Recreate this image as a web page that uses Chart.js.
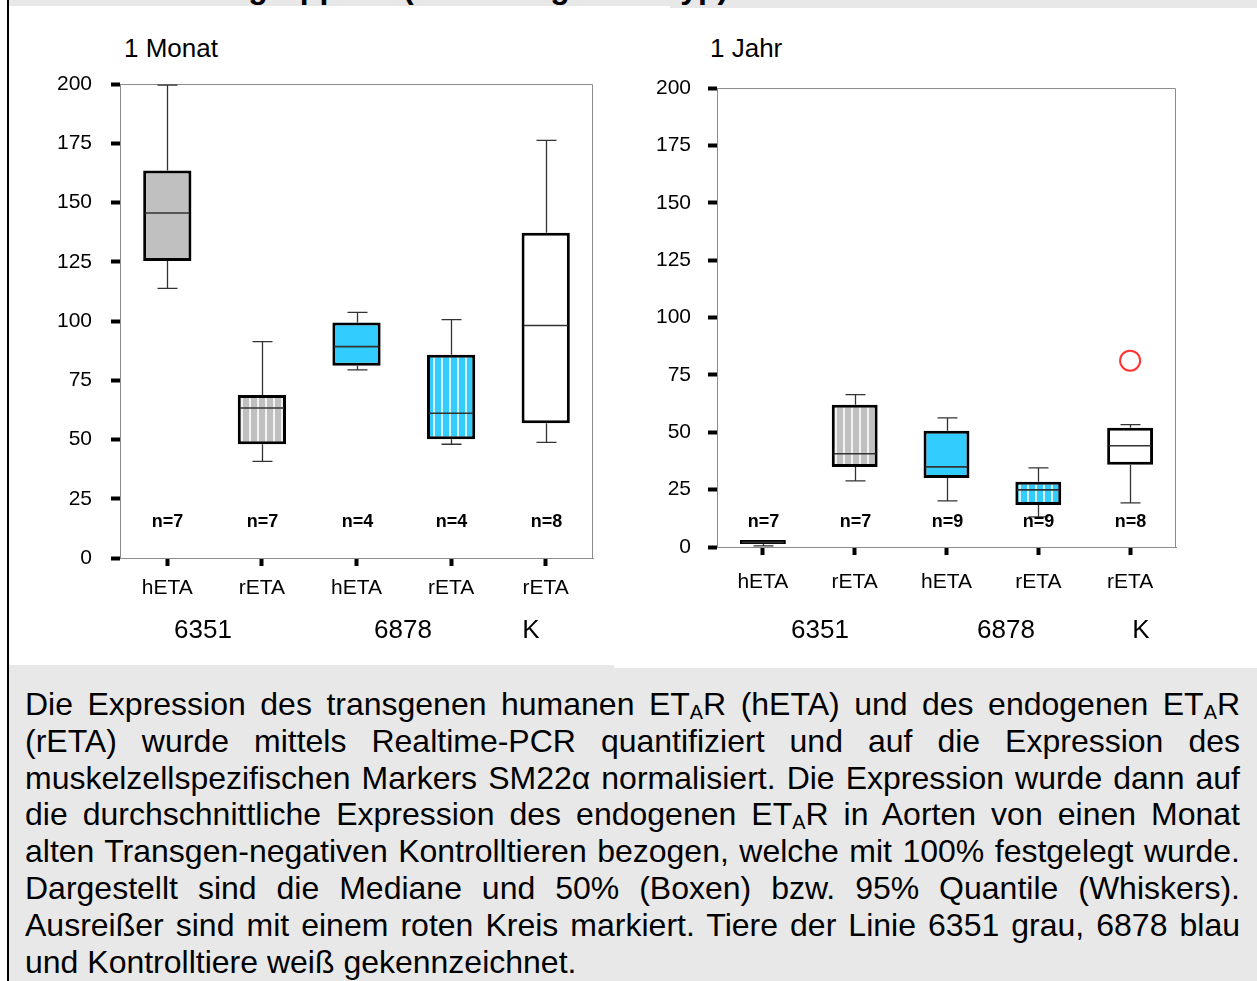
<!DOCTYPE html>
<html>
<head>
<meta charset="utf-8">
<script src="https://cdn.jsdelivr.net/npm/chart.js@4.4.1/dist/chart.umd.min.js"></script>
<style>
  html,body{margin:0;padding:0;background:#fff;}
  body{width:1257px;height:981px;position:relative;overflow:hidden;font-family:Arial,"Liberation Sans",sans-serif;color:#000;}
  .tt{position:absolute;top:-28.6px;font:bold 32px/32px Arial,"Liberation Sans",sans-serif;white-space:nowrap;}
  .lbl{position:absolute;font-size:26px;line-height:26px;white-space:nowrap;}
  .grp{position:absolute;font-size:26px;line-height:26px;white-space:nowrap;transform:translateX(-50%);}
  #cap{position:absolute;left:25px;top:686px;width:1215px;font-size:32px;line-height:36.8px;}
  #cap div{height:36.8px;}
  #cap .j{text-align:justify;text-align-last:justify;}
  .sb{font-size:0.62em;vertical-align:-0.22em;line-height:0;}
  canvas{position:absolute;}
</style>
</head>
<body>
<div style="position:absolute;left:9px;top:0;width:1248px;height:8px;background:#e8e8e8;overflow:hidden">
  <div style="position:absolute;left:0;top:6px;width:661px;height:2px;background:#fff"></div>
  <span class="tt" style="left:97px">Versuchsgruppen</span>
  <span class="tt" style="left:394px;letter-spacing:2.5px">(Messung</span>
  <span class="tt" style="left:654px">Typ)</span>
</div>
<div style="position:absolute;left:7px;top:0;width:2px;height:981px;background:#000"></div>

<div class="lbl" style="left:124px;top:35px">1 Monat</div>
<div class="lbl" style="left:710px;top:35px">1 Jahr</div>

<canvas id="c1" width="590" height="560" style="left:30px;top:70px;width:590px;height:560px"></canvas>
<canvas id="c2" width="570" height="560" style="left:640px;top:70px;width:570px;height:560px"></canvas>

<div class="grp" style="left:203px;top:616px">6351</div>
<div class="grp" style="left:403px;top:616px">6878</div>
<div class="grp" style="left:531px;top:616px">K</div>
<div class="grp" style="left:820px;top:616px">6351</div>
<div class="grp" style="left:1006px;top:616px">6878</div>
<div class="grp" style="left:1141px;top:616px">K</div>

<div style="position:absolute;left:9px;top:665px;width:605px;height:316px;background:#e8e8e8"></div>
<div style="position:absolute;left:614px;top:668px;width:643px;height:313px;background:#e8e8e8"></div>

<div id="cap">
  <div class="j">Die Expression des transgenen humanen ET<span class="sb">A</span>R (hETA) und des endogenen ET<span class="sb">A</span>R</div>
  <div class="j">(rETA) wurde mittels Realtime-PCR quantifiziert und auf die Expression des</div>
  <div class="j">muskelzellspezifischen Markers SM22α normalisiert. Die Expression wurde dann auf</div>
  <div class="j">die durchschnittliche Expression des endogenen ET<span class="sb">A</span>R in Aorten von einen Monat</div>
  <div class="j">alten Transgen-negativen Kontrolltieren bezogen, welche mit 100% festgelegt wurde.</div>
  <div class="j">Dargestellt sind die Mediane und 50% (Boxen) bzw. 95% Quantile (Whiskers).</div>
  <div class="j">Ausreißer sind mit einem roten Kreis markiert. Tiere der Linie 6351 grau, 6878 blau</div>
  <div>und Kontrolltiere weiß gekennzeichnet.</div>
</div>

<script>
// ---- data ----
const categories = ['hETA', 'rETA', 'hETA', 'rETA', 'rETA'];
const yTickValues = [0, 25, 50, 75, 100, 125, 150, 175, 200];

// 1 Monat
const monatMin = [113.8, 40.8, 79.4, 48.0, 48.8];
const monatQ1  = [125.3, 48.0, 81.1, 50.1, 56.9];
const monatMed = [145.6, 63.3, 89.2, 61.1, 98.1];
const monatQ3  = [163.5, 68.8, 99.4, 85.8, 137.2];
const monatMax = [199.5, 91.3, 103.6, 100.6, 176.2];
const monatN   = ['n=7', 'n=7', 'n=4', 'n=4', 'n=8'];

// 1 Jahr
const jahrMin = [0.5, 28.8, 20.1, 13.1, 19.2];
const jahrQ1  = [1.3, 34.9, 30.1, 18.3, 35.8];
const jahrMed = [2.0, 40.6, 34.9, 24.9, 44.1];
const jahrQ3  = [3.0, 62.0, 50.7, 28.4, 52.0];
const jahrMax = [3.0, 66.4, 56.3, 34.5, 53.3];
const jahrOutlier = [null, null, null, null, 81.2];
const jahrN   = ['n=7', 'n=7', 'n=9', 'n=9', 'n=8'];

// ---- styles ----
Chart.defaults.font.family = 'Arial, "Liberation Sans", sans-serif';
Chart.defaults.color = '#000';

function stripes(base, line) {
  const c = document.createElement('canvas');
  c.width = 8; c.height = 8;
  const g = c.getContext('2d');
  g.fillStyle = base; g.fillRect(0, 0, 8, 8);
  g.fillStyle = line; g.fillRect(3, 0, 2, 8);
  return g.createPattern(c, 'repeat');
}
const GRAY = '#c0c0c0', BLUE = '#33ccff';
const fills = [GRAY, stripes(GRAY, '#f2f2f2'), BLUE, stripes(BLUE, '#d6f3ff'), '#ffffff'];

function makeBoxPlugin(st) {
  return {
    id: 'boxExtras',
    afterDatasetsDraw(chart) {
      const { ctx, chartArea: a, scales: { x, y } } = chart;
      const bars = chart.getDatasetMeta(0).data;
      ctx.save();
      ctx.strokeStyle = '#8c8c8c'; ctx.lineWidth = 1;
      ctx.beginPath();
      ctx.moveTo(a.left, a.top + 0.5);
      ctx.lineTo(a.right - 0.5, a.top + 0.5);
      ctx.lineTo(a.right - 0.5, a.bottom);
      ctx.stroke();
      st.min.forEach((mn, i) => {
        const cx = Math.round(x.getPixelForValue(i)) + 0.5;
        ctx.strokeStyle = '#333'; ctx.lineWidth = 1.3;
        const capW = st.capW;
        if (st.max[i] > st.q3[i]) {
          const yt = y.getPixelForValue(st.max[i]), yb = y.getPixelForValue(st.q3[i]);
          ctx.beginPath(); ctx.moveTo(cx, yb); ctx.lineTo(cx, yt);
          ctx.moveTo(cx - capW / 2, yt); ctx.lineTo(cx + capW / 2, yt); ctx.stroke();
        }
        if (mn < st.q1[i]) {
          const yt = y.getPixelForValue(st.q1[i]), yb = y.getPixelForValue(mn);
          ctx.beginPath(); ctx.moveTo(cx, yt); ctx.lineTo(cx, yb);
          ctx.moveTo(cx - capW / 2, yb); ctx.lineTo(cx + capW / 2, yb); ctx.stroke();
        }
        const b = bars[i];
        const ym = y.getPixelForValue(st.med[i]);
        ctx.strokeStyle = '#333'; ctx.lineWidth = 1.6;
        ctx.beginPath(); ctx.moveTo(b.x - b.width / 2 + 2, ym); ctx.lineTo(b.x + b.width / 2 - 2, ym); ctx.stroke();
        ctx.fillStyle = '#000';
        ctx.font = 'bold 18px Arial, "Liberation Sans", sans-serif';
        ctx.textAlign = 'center'; ctx.textBaseline = 'middle';
        ctx.fillText(st.n[i], cx, a.bottom - st.nOff);
      });
      ctx.restore();
    }
  };
}

function makeChart(id, st, pad, yW, xH, labelPad, barPct, outlier) {
  const datasets = [{
    type: 'bar',
    data: st.q1.map((v, i) => [v, st.q3[i]]),
    backgroundColor: fills,
    borderColor: '#000',
    borderWidth: 3,
    borderSkipped: false,
    barPercentage: barPct,
    categoryPercentage: 1.0,
    order: 2
  }];
  if (outlier) {
    datasets.push({
      type: 'line',
      data: outlier,
      showLine: false,
      pointStyle: 'circle',
      pointRadius: 10,
      pointBorderWidth: 2,
      pointBorderColor: '#ff3333',
      pointBackgroundColor: 'rgba(0,0,0,0)',
      order: 1
    });
  }
  return new Chart(document.getElementById(id), {
    type: 'bar',
    data: { labels: categories, datasets },
    options: {
      responsive: false,
      animation: false,
      devicePixelRatio: 1,
      layout: { padding: pad },
      plugins: { legend: { display: false }, tooltip: { enabled: false } },
      scales: {
        x: {
          type: 'category',
          offset: true,
          grid: { offset: false, drawOnChartArea: false, drawTicks: true, tickLength: 8, tickWidth: 4, tickColor: '#000' },
          border: { display: true, color: '#8c8c8c', width: 1 },
          ticks: { font: { size: 21 }, padding: labelPad, maxRotation: 0, autoSkip: false },
          afterFit: s => { s.height = xH; s.paddingLeft = 0; s.paddingRight = 0; }
        },
        y: {
          min: 0, max: 200,
          afterBuildTicks: s => { s.ticks = yTickValues.map(v => ({ value: v })); },
          grid: { drawOnChartArea: false, drawTicks: true, tickLength: 9, tickWidth: 4, tickColor: '#000' },
          border: { display: true, color: '#8c8c8c', width: 1 },
          ticks: { font: { size: 21 }, padding: yW.pad },
          afterFit: s => { s.width = yW.w; s.paddingTop = 0; s.paddingBottom = 0; }
        }
      }
    },
    plugins: [makeBoxPlugin(st)]
  });
}

makeChart('c1',
  { min: monatMin, q1: monatQ1, med: monatMed, q3: monatQ3, max: monatMax, n: monatN, capW: 20, nOff: 36 },
  { top: 14, right: 27, left: 0, bottom: 0 }, { w: 90, pad: 19 }, 72, 10, 0.51, null);

makeChart('c2',
  { min: jahrMin, q1: jahrQ1, med: jahrMed, q3: jahrQ3, max: jahrMax, n: jahrN, capW: 20, nOff: 25 },
  { top: 18, right: 34, left: 0, bottom: 0 }, { w: 77, pad: 17 }, 83, 15, 0.5, jahrOutlier);
</script>
</body>
</html>
